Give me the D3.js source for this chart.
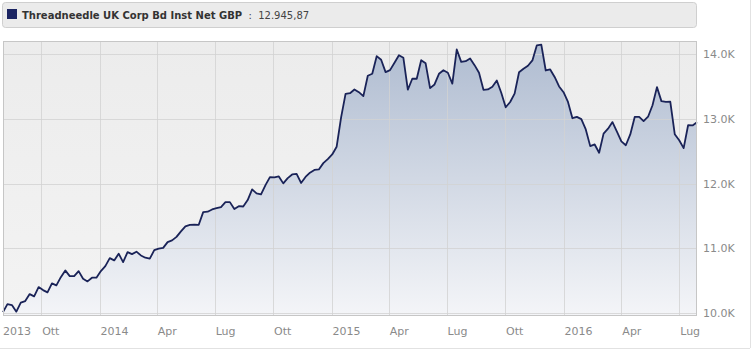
<!DOCTYPE html>
<html>
<head>
<meta charset="utf-8">
<script src="https://cdnjs.cloudflare.com/ajax/libs/d3/7.8.5/d3.min.js"></script>
<style>
  body { margin: 0; background: #fff; }
  svg { display: block; font-family: "DejaVu Sans", Verdana, sans-serif; }
</style>
</head>
<body>
<div id="chart"></div>
<script>
// weekly NAV values (GBP), first week ending 2013-08-02
const fundName = "Threadneedle UK Corp Bd Inst Net GBP";
const lastValueLabel = "12.945,87";
const startDate = new Date(2013, 7, 2);
const navValues = [
  10015, 10139, 10123, 10022, 10160, 10185, 10293, 10258, 10401, 10355,
  10319, 10458, 10427, 10554, 10659, 10571, 10571, 10648, 10531, 10489,
  10546, 10546, 10648, 10725, 10849, 10813, 10917, 10787, 10941, 10910,
  10948, 10890, 10855, 10840, 10972, 10994, 11006, 11096, 11122, 11176,
  11261, 11338, 11361, 11364, 11363, 11559, 11565, 11600, 11619, 11637,
  11713, 11713, 11606, 11651, 11645, 11744, 11909, 11847, 11832, 11975,
  12099, 12094, 12110, 12002, 12083, 12140, 12148, 12009, 12102, 12167,
  12210, 12218, 12315, 12377, 12449, 12568, 13020, 13383, 13394, 13452,
  13410, 13349, 13664, 13694, 13966, 13910, 13719, 13750, 13864, 13981,
  13941, 13448, 13617, 13617, 13904, 13856, 13472, 13529, 13694, 13748,
  13710, 13542, 14069, 13877, 13889, 13931, 13827, 13710, 13446, 13452,
  13494, 13591, 13401, 13177, 13259, 13387, 13718, 13772, 13818, 13900,
  14134, 14144, 13745, 13761, 13645, 13498, 13409, 13259, 13008, 13028,
  12994, 12835, 12577, 12603, 12475, 12770, 12847, 12948, 12801, 12650,
  12591, 12758, 13028, 13028, 12963, 13031, 13208, 13488, 13272, 13259,
  13262, 12762, 12668, 12546, 12900, 12897, 12945.87
];
const tickDates = [
  "2013-08-02", "2013-10-01", "2014-01-01", "2014-04-01", "2014-07-01", "2014-10-01",
  "2015-01-01", "2015-04-01", "2015-07-01", "2015-10-01", "2016-01-01", "2016-04-01", "2016-07-01"
];
const tickLabels = ["2013", "Ott", "2014", "Apr", "Lug", "Ott", "2015", "Apr", "Lug", "Ott", "2016", "Apr", "Lug"];
const yTicks = [10000, 11000, 12000, 13000, 14000];

const data = navValues.map((v, i) => ({ date: d3.timeDay.offset(startDate, 7 * i), value: v }));
const parse = d3.timeParse("%Y-%m-%d");

const W = 754, H = 354;
const plot = { left: 3, right: 697, top: 41, bottom: 316 };

const svg = d3.select("#chart").append("svg")
    .attr("width", W)
    .attr("height", H);

const defs = svg.append("defs");
const bgGrad = defs.append("linearGradient").attr("id", "bgGrad")
    .attr("x1", 0).attr("y1", 0).attr("x2", 0).attr("y2", 1);
bgGrad.append("stop").attr("offset", "0%").attr("stop-color", "#ececec");
bgGrad.append("stop").attr("offset", "100%").attr("stop-color", "#f3f3f3");

const areaGrad = defs.append("linearGradient").attr("id", "areaGrad")
    .attr("gradientUnits", "userSpaceOnUse")
    .attr("x1", 0).attr("y1", plot.top).attr("x2", 0).attr("y2", plot.bottom);
areaGrad.append("stop").attr("offset", "0%").attr("stop-color", "#aebbd0");
areaGrad.append("stop").attr("offset", "100%").attr("stop-color", "#f4f5f8");

// outer frame lines
svg.append("line").attr("x1", 750.5).attr("x2", 750.5).attr("y1", 0).attr("y2", 348)
    .attr("stroke", "#e2e2e2");
svg.append("line").attr("x1", 0).attr("x2", 750).attr("y1", 348.5).attr("y2", 348.5)
    .attr("stroke", "#e2e2e2");

// header
svg.append("rect")
    .attr("x", 2.5).attr("y", 2.5).attr("width", 694).attr("height", 25)
    .attr("rx", 3)
    .attr("fill", "#ebebeb")
    .attr("stroke", "#cfcfcf");
svg.append("rect")
    .attr("x", 7).attr("y", 9).attr("width", 10).attr("height", 10)
    .attr("fill", "#1b2462");
const title = svg.append("text")
    .attr("x", 22).attr("y", 18.5)
    .attr("font-size", 10)
    .attr("fill", "#333")
    .attr("xml:space", "preserve");
title.append("tspan").attr("font-weight", "bold").text(fundName);
title.append("tspan").attr("fill", "#444").text("  :  " + lastValueLabel);

const x = d3.scaleTime()
    .domain(d3.extent(data, d => d.date))
    .range([plot.left, plot.right]);
const y = d3.scaleLinear()
    .domain([9955, 14200])
    .range([plot.bottom, plot.top]);

svg.append("rect")
    .attr("x", plot.left).attr("y", plot.top)
    .attr("width", plot.right - plot.left).attr("height", plot.bottom - plot.top)
    .attr("fill", "url(#bgGrad)");

const g = svg.append("g");

const area = d3.area()
    .x(d => x(d.date))
    .y0(plot.bottom)
    .y1(d => y(d.value));
g.append("path")
    .datum(data)
    .attr("d", area)
    .attr("fill", "url(#areaGrad)");

// grid
g.selectAll(".vgrid")
    .data(tickDates.slice(1))
    .join("line")
    .attr("class", "vgrid")
    .attr("x1", d => Math.round(x(parse(d))) + 0.5)
    .attr("x2", d => Math.round(x(parse(d))) + 0.5)
    .attr("y1", plot.top).attr("y2", plot.bottom)
    .attr("stroke", "#d2d2d2")
    .attr("stroke-opacity", 0.8);
g.selectAll(".hgrid")
    .data(yTicks)
    .join("line")
    .attr("class", "hgrid")
    .attr("x1", plot.left).attr("x2", plot.right)
    .attr("y1", d => Math.round(y(d)) + 0.5)
    .attr("y2", d => Math.round(y(d)) + 0.5)
    .attr("stroke", "#d2d2d2")
    .attr("stroke-opacity", 0.8);

const line = d3.line()
    .x(d => x(d.date))
    .y(d => y(d.value));
g.append("path")
    .datum(data)
    .attr("d", line)
    .attr("fill", "none")
    .attr("stroke", "#1a2358")
    .attr("stroke-width", 1.8)
    .attr("stroke-linejoin", "round");

svg.append("rect")
    .attr("x", plot.left + 0.5).attr("y", plot.top + 0.5)
    .attr("width", plot.right - plot.left - 1).attr("height", plot.bottom - plot.top - 1)
    .attr("fill", "none")
    .attr("stroke", "#c6c6c6");

// x labels
svg.selectAll(".xlab")
    .data(tickDates)
    .join("text")
    .attr("class", "xlab")
    .attr("x", (d, i) => i === 0 ? 3 : x(parse(d)) + 1)
    .attr("y", 335)
    .attr("font-size", 11)
    .attr("fill", "#8a8a8a")
    .text((d, i) => tickLabels[i]);

// y labels
svg.selectAll(".ylab")
    .data(yTicks)
    .join("text")
    .attr("class", "ylab")
    .attr("x", 703)
    .attr("y", d => y(d) + 4)
    .attr("font-size", 11)
    .attr("fill", "#8a8a8a")
    .text(d => d3.format(".1f")(d / 1000) + "K");
</script>
</body>
</html>
